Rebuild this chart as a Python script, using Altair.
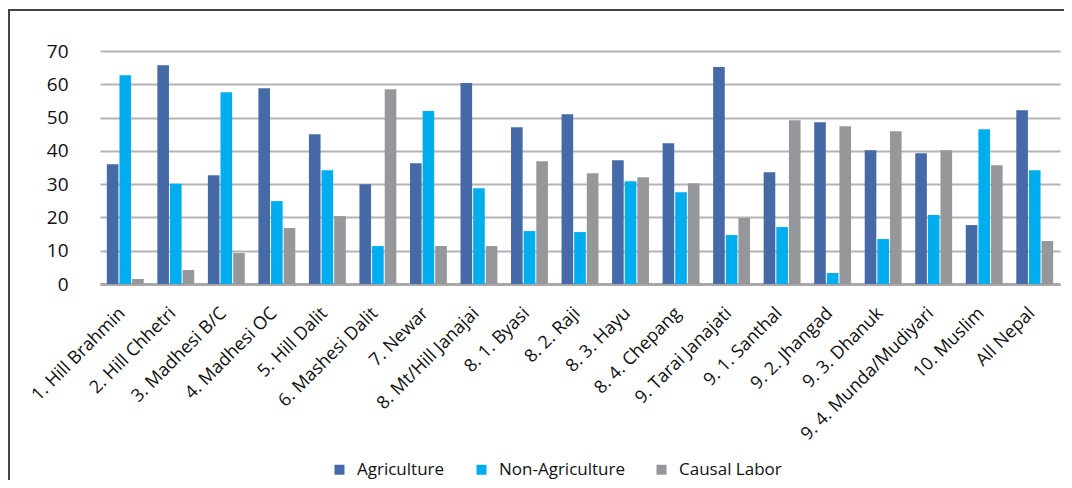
import altair as alt
import pandas as pd

categories = [
    "1. Hill Brahmin", "2. Hill Chhetri", "3. Madhesi B/C", "4. Madhesi OC",
    "5. Hill Dalit", "6. Mashesi Dalit", "7. Newar", "8. Mt/Hill Janajai",
    "8. 1. Byasi", "8. 2. Raji", "8. 3. Hayu", "8. 4. Chepang",
    "9. Tarai Janajati", "9. 1. Santhal", "9. 2. Jhangad", "9. 3. Dhanuk",
    "9. 4. Munda/Mudiyari", "10. Muslim", "All Nepal",
]
agriculture = [36.0, 65.7, 32.7, 58.8, 45.0, 30.0, 36.3, 60.4, 47.1, 51.0,
               37.2, 42.3, 65.2, 33.6, 48.6, 40.2, 39.3, 17.7, 52.2]
non_agriculture = [62.7, 30.1, 57.6, 24.9, 34.2, 11.4, 52.0, 28.8, 15.9, 15.6,
                   30.9, 27.6, 14.7, 17.1, 3.3, 13.5, 20.7, 46.5, 34.2]
causal_labor = [1.5, 4.2, 9.3, 16.8, 20.4, 58.5, 11.4, 11.4, 36.9, 33.3,
                32.1, 30.3, 19.8, 49.2, 47.4, 45.9, 40.2, 35.7, 12.9]
series = ["Agriculture", "Non-Agriculture", "Causal Labor"]
colors = ["#4669A7", "#00ADEE", "#96979B"]
y_ticks = [0, 10, 20, 30, 40, 50, 60, 70]

rows = []
for i, c in enumerate(categories):
    for s, vals in zip(series, [agriculture, non_agriculture, causal_labor]):
        rows.append({"group": c, "series": s, "value": vals[i]})
df = pd.DataFrame(rows)

FONT = "Open Sans"

bars = alt.Chart(df).mark_bar().encode(
    x=alt.X(
        "group:N", sort=categories,
        scale=alt.Scale(paddingInner=0.27, paddingOuter=0.135),
        axis=alt.Axis(
            title=None, labelAngle=-45, labelAlign="right", labelBaseline="top",
            labelPadding=20, labelOffset=-9, labelFontSize=18, labelFont=FONT,
            labelColor="#111", ticks=False, domainColor="#a8a8a8", domainWidth=3,
        ),
    ),
    xOffset=alt.XOffset("series:N", sort=series, scale=alt.Scale(paddingInner=0.08)),
    y=alt.Y(
        "value:Q", scale=alt.Scale(domain=[0, 70]),
        axis=alt.Axis(
            title=None, values=y_ticks, domain=False, ticks=False,
            labelPadding=32, labelFontSize=19, labelFont=FONT, labelColor="#111",
            gridColor="#b4b4b4", gridWidth=2,
        ),
    ),
    color=alt.Color(
        "series:N", sort=series,
        scale=alt.Scale(domain=series, range=colors),
        legend=alt.Legend(
            title=None, orient="none", legendX=231, legendY=410,
            direction="horizontal", symbolType="square", symbolSize=100,
            symbolStrokeWidth=0, labelFontSize=17, labelFont=FONT,
            labelColor="#111", labelOffset=9, columnPadding=28,
        ),
    ),
)

frame_top = alt.Chart(df).mark_rule(color="#444", strokeWidth=2).encode(
    x=alt.value(-92), x2=alt.value(964), y=alt.value(-41)
)
frame_left = alt.Chart(df).mark_rule(color="#444", strokeWidth=2).encode(
    x=alt.value(-91), y=alt.value(-41), y2=alt.value(429)
)

chart = alt.layer(bars, frame_top, frame_left).properties(
    width=960, height=233,
    autosize=alt.AutoSizeParams(type="none"),
    padding={"left": 92, "top": 43, "right": 4, "bottom": 196},
).configure_view(stroke=None)

chart.save("out.html", embed_options={"renderer": "svg", "actions": False})
